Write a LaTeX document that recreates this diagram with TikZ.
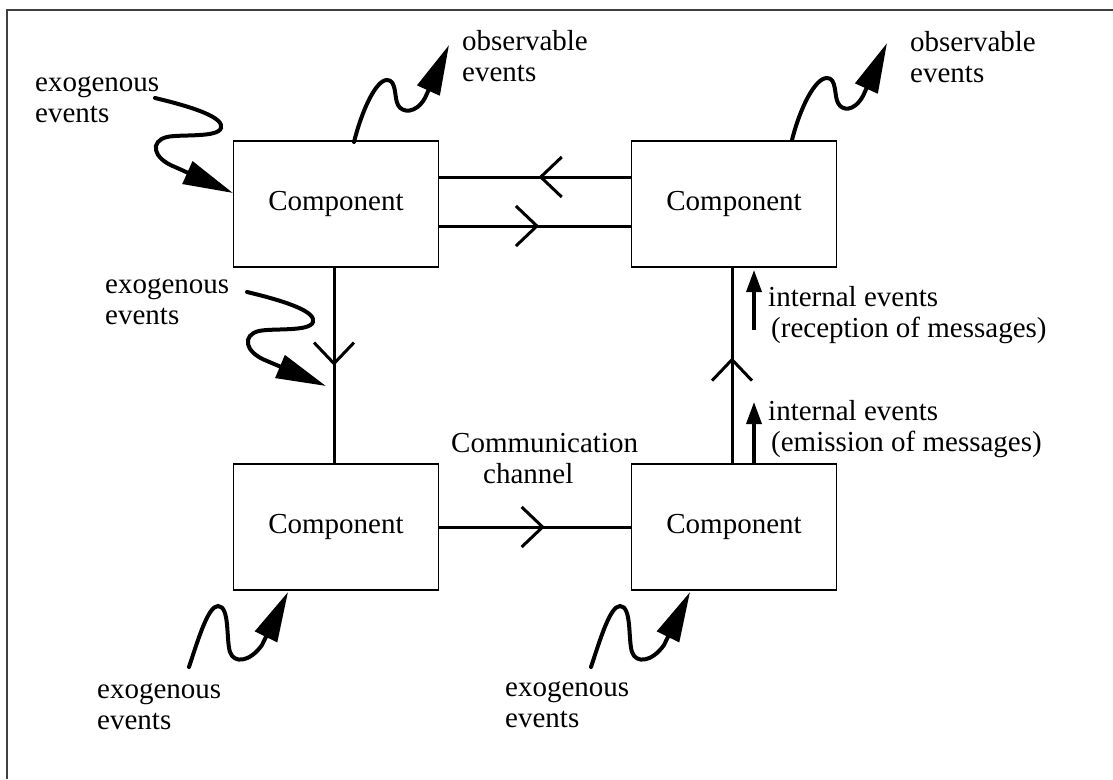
\documentclass[tikz,border=0pt]{standalone}
\usepackage{fontspec}
\setmainfont{Liberation Serif}
\usetikzlibrary{arrows.meta,calc,decorations.markings}

\tikzset{
  comp/.style={draw, line width=1.5pt, minimum width=205pt, minimum height=126pt, inner sep=0pt},
  % anchored at the baseline of the last line of a label
  lbl/.style={anchor=base west, align=left, inner sep=0pt},
  chan/.style={line width=3pt},
  wave/.style={line width=4pt, line cap=round, -{Triangle[length=50pt,width=24pt]}},
  intarrow/.style={line width=3.5pt, -{Triangle[length=22pt,width=15pt]}},
  barb at/.style={postaction={decorate}, decoration={markings,
      mark=at position #1 with {\draw[line width=3pt, line join=round] (-21pt,20pt) -- (0pt,0pt) -- (-21pt,-20pt);}}},
  frame/.style={line width=2pt, draw=black!75},
}

\begin{document}
\begin{tikzpicture}[x=1pt, y=-1pt, every node/.style={font=\fontsize{29}{31}\selectfont}]
  \fill[white] (0,0) rectangle (1113,779);
  \useasboundingbox (0,0) rectangle (1113,779);

  % frame (top and left edges)
  \draw[frame] (7,779) -- (7,10) -- (1113,10);

  % components
  \node[comp] (tl) at (336,204) {Component};
  \node[comp] (tr) at (734,204) {Component};
  \node[comp] (bl) at (336,527) {Component};
  \node[comp] (br) at (734,527) {Component};

  % communication channels
  \draw[chan, barb at=0.47] ($(tr.west)+(0,-27)$) -- ($(tl.east)+(0,-27)$);
  \draw[chan, barb at=0.51] ($(tl.east)+(0,22)$) -- ($(tr.west)+(0,22)$);
  \draw[chan, barb at=0.49] ($(tl.south)+(-2,0)$) -- ($(bl.north)+(-2,0)$);
  \draw[chan, barb at=0.54] (bl.east) -- (br.west);
  \draw[chan, barb at=0.53] ($(br.north)+(-2,0)$) -- ($(tr.south)+(-2,0)$);

  % internal event arrows
  \coordinate (iu1) at (754,330);
  \coordinate (iu2) at (754,270);
  \coordinate (il2) at (754,402);
  \draw[intarrow] (iu1) -- (iu2);
  \draw[intarrow] ($(br.north)+(20,0)$) -- (il2);

  % labels
  \node[lbl] (lx1) at (35,122) {exogenous\\events};
  \node[lbl] (lx2) at (105,324) {exogenous\\events};
  \node[lbl] (lo1) at (462,81) {observable\\events};
  \node[lbl] (lo2) at (910,82) {observable\\events};
  \node[lbl] (li1) at (768,337) {internal events\\\hspace*{3pt}(reception of messages)};
  \node[lbl] (li2) at (768,451) {internal events\\\hspace*{3pt}(emission of messages)};
  \node[lbl] (lx3) at (97,729) {exogenous\\events};
  \node[lbl] (lx4) at (505,727) {exogenous\\events};
  \node[lbl] (lcc) at (451,483) {Communication\\\hspace*{32pt}channel};

  % wavy event arrows
  \coordinate (e1s) at (155,98);   \coordinate (e1t) at (233,193);
  \coordinate (e2s) at (247,292);  \coordinate (e2t) at (326,386);
  \coordinate (o1s) at (354,142);  \coordinate (o1t) at (449,45);
  \coordinate (o2s) at (792,140);  \coordinate (o2t) at (887,43);
  \coordinate (e3s) at (189,667);  \coordinate (e3t) at (288,592);
  \coordinate (e4s) at (591,667);  \coordinate (e4t) at (690,592);

  \draw[wave] (e1s) .. controls (197,108) and (224,118) .. (221,128)
                    .. controls (218,138) and (180,134) .. (167,137)
                    .. controls (150,141) and (152,158) .. (175,167) -- (e1t);
  \draw[wave] (e2s) .. controls (289,302) and (316,312) .. (313,322)
                    .. controls (310,332) and (272,328) .. (259,331)
                    .. controls (242,335) and (244,352) .. (267,361) -- (e2t);
  \draw[wave] (o1s) .. controls (362,110) and (376,80) .. (387,80)
                    .. controls (397,80) and (394,98) .. (398,105)
                    .. controls (402,113) and (416,114) .. (425,98) -- (o1t);
  \draw[wave] (o2s) .. controls (800,108) and (815,78) .. (827,78)
                    .. controls (837,78) and (834,96) .. (838,103)
                    .. controls (842,111) and (854,112) .. (863,96) -- (o2t);
  \draw[wave] (e3s) .. controls (198,640) and (208,606) .. (218,606)
                    .. controls (230,606) and (226,640) .. (230,652)
                    .. controls (234,664) and (250,662) .. (262,645) -- (e3t);
  \draw[wave] (e4s) .. controls (600,640) and (610,606) .. (620,606)
                    .. controls (632,606) and (628,640) .. (632,652)
                    .. controls (636,664) and (652,662) .. (664,645) -- (e4t);
\end{tikzpicture}
\end{document}
